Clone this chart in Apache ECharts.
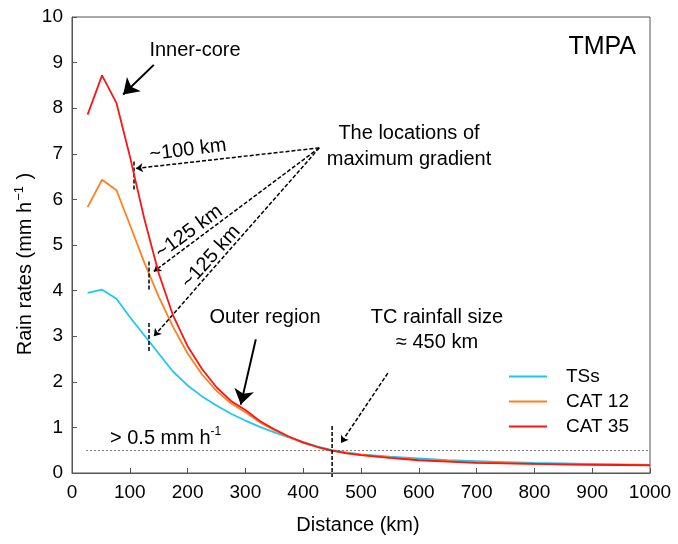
<!DOCTYPE html>
<html><head><meta charset="utf-8">
<script src="https://cdn.jsdelivr.net/npm/echarts@6/dist/echarts.min.js"></script>
<style>html,body{margin:0;padding:0;background:#fff}#c{width:678px;height:544px}</style>
</head><body><div id="c"></div>
<script>
const distances = [27, 52, 77, 100, 125, 150, 175, 200, 225, 250, 275, 300, 325, 350, 375, 400, 425, 450, 475, 500, 550, 600, 650, 700, 750, 800, 850, 900, 950, 1000];
const tss   = [3.95, 4.02, 3.82, 3.42, 3.02, 2.62, 2.22, 1.92, 1.68, 1.48, 1.30, 1.15, 1.01, 0.89, 0.78, 0.68, 0.58, 0.50, 0.45, 0.41, 0.36, 0.32, 0.28, 0.26, 0.24, 0.22, 0.21, 0.20, 0.19, 0.18];
const cat12 = [5.83, 6.43, 6.20, 5.45, 4.62, 3.87, 3.20, 2.62, 2.16, 1.80, 1.53, 1.33, 1.11, 0.94, 0.79, 0.66, 0.57, 0.49, 0.44, 0.40, 0.34, 0.29, 0.26, 0.23, 0.215, 0.20, 0.19, 0.185, 0.18, 0.175];
const cat35 = [7.86, 8.72, 8.11, 6.95, 5.58, 4.38, 3.45, 2.78, 2.28, 1.88, 1.58, 1.38, 1.14, 0.96, 0.80, 0.67, 0.57, 0.49, 0.43, 0.39, 0.33, 0.28, 0.25, 0.22, 0.21, 0.20, 0.19, 0.18, 0.175, 0.17];
const seriesNames = ['TSs', 'CAT 12', 'CAT 35'];
const seriesColors = ['#1ec8f0', '#ff8022', '#ff1414'];
const threshold = 0.5;
const rainfallSize = 450;

const FONT = 'Liberation Sans, Arial, sans-serif';
const pair = (arr) => distances.map((d, i) => [d, arr[i]]);

const dashed = {type: [4, 2], color: '#000', width: 1.5};
function seg(a, b, style, arrow, size) {
  return [
    {coord: a, symbol: 'none', lineStyle: style},
    {coord: b, symbol: arrow ? 'arrow' : 'none', symbolSize: size || 8, lineStyle: style}
  ];
}
const solid = {type: 'solid', color: '#000', width: 2};
const markData = [
  seg([24.7, threshold], [1000, threshold], {type: [1.5, 2.5], color: '#555', width: 1}, false),
  seg([106.9, 6.83], [106.9, 6.19], dashed, false),
  seg([132.9, 4.64], [132.9, 4.02], dashed, false),
  seg([132.9, 3.29], [132.9, 2.63], dashed, false),
  seg([427.8, 7.13], [110.5, 6.68], dashed, true, 7),
  seg([427.8, 7.13], [141.6, 4.42], dashed, true, 7),
  seg([427.8, 7.13], [141.6, 3.0], dashed, true, 7),
  seg([546.4, 2.19], [465.4, 0.66], dashed, true, 7),
  seg([141.5, 8.95], [88.5, 8.30], solid, true, 15),
  seg([318, 2.93], [292, 1.50], solid, true, 15)
];

const chart = echarts.init(document.getElementById('c'), null, {renderer: 'canvas'});
const lineSeries = seriesNames.map((n, k) => ({
  name: n, type: 'line', data: pair([tss, cat12, cat35][k]),
  showSymbol: false, symbol: 'none', color: seriesColors[k],
  lineStyle: {width: 1.8, color: seriesColors[k]}, z: 3 + k, animation: false
}));
lineSeries.push({
  name: 'annot', type: 'line', data: [], clip: false, animation: false, z: 10,
  markLine: {silent: true, animation: false, label: {show: false}, symbol: ['none', 'arrow'],
    emphasis: {disabled: true}, data: markData}
});

const t = (x, y, text, opts) => Object.assign({
  type: 'text', x: x, y: y, silent: true,
  style: Object.assign({text: text, font: '20px ' + FONT, fill: '#000', textAlign: 'center', textVerticalAlign: 'middle'}, (opts && opts.style) || {})
}, opts && opts.rotation !== undefined ? {rotation: opts.rotation} : {});

const deg = Math.PI / 180;
const graphics = [
  t(358, 525, 'Distance (km)'),
  {type: 'text', x: 25, y: 264, rotation: Math.PI / 2, silent: true,
   style: {text: '{a|Rain rates (mm h}{s|−1}{a| )}', textAlign: 'center', textVerticalAlign: 'middle',
     rich: {a: {font: '20px ' + FONT, fill: '#000', lineHeight: 24}, s: {font: '13px ' + FONT, fill: '#000', verticalAlign: 'top', lineHeight: 24, padding: [0, 1, 0, 1]}}}},
  t(636, 47, 'TMPA', {style: {font: '25px ' + FONT, textAlign: 'right'}}),
  t(195, 50, 'Inner-core'),
  t(188, 150, '~100 km', {rotation: 7 * deg}),
  t(189, 232, '~125 km', {rotation: 36 * deg}),
  t(211, 257, '~125 km', {rotation: 48 * deg}),
  t(409, 133, 'The locations of'),
  t(409, 159, 'maximum gradient'),
  t(265, 317, 'Outer region'),
  t(437, 317, 'TC rainfall size'),
  t(437, 342, '≈ 450 km'),
  {type: 'text', x: 110, y: 438, silent: true,
   style: {text: '{a|> 0.5 mm h}{s|-1}', textAlign: 'left', textVerticalAlign: 'middle',
     rich: {a: {font: '20px ' + FONT, fill: '#000', lineHeight: 24}, s: {font: '12px ' + FONT, fill: '#000', verticalAlign: 'top', lineHeight: 24}}}}
];

const option = {
  animation: false,
  textStyle: {fontFamily: FONT},
  grid: {left: 72, right: 28, top: 17, bottom: 71, show: true, borderColor: '#555', borderWidth: 1},
  legend: {
    data: seriesNames, orient: 'vertical', left: 509, top: 367, padding: 0, itemGap: 6,
    icon: 'rect', itemWidth: 38, itemHeight: 2,
    textStyle: {fontSize: 19, color: '#000', lineHeight: 19, padding: [0, 0, 0, 14], fontFamily: FONT},
    selectedMode: false
  },
  xAxis: {
    type: 'value', min: 0, max: 1000, interval: 100,
    axisLine: {lineStyle: {color: '#555', width: 1}},
    axisTick: {inside: true, length: 5, lineStyle: {color: '#555'}},
    axisLabel: {fontSize: 19, color: '#000', margin: 10, fontFamily: FONT, formatter: (v) => String(v)},
    splitLine: {show: false}
  },
  yAxis: {
    type: 'value', min: 0, max: 10, interval: 1,
    axisLine: {show: true, lineStyle: {color: '#555', width: 1}},
    axisTick: {show: true, inside: true, length: 5, lineStyle: {color: '#555'}},
    axisLabel: {fontSize: 19, color: '#000', margin: 9, fontFamily: FONT, formatter: (v) => String(v)},
    splitLine: {show: false}
  },
  series: lineSeries,
  graphic: graphics
};
chart.setOption(option);

// vertical dashed marker at the rainfall size, extending slightly below the axis
const pTop = chart.convertToPixel({gridIndex: 0}, [rainfallSize, 1.03]);
const pBot = chart.convertToPixel({gridIndex: 0}, [rainfallSize, 0]);
graphics.push({type: 'line', silent: true, z: 20,
  shape: {x1: pTop[0], y1: pTop[1], x2: pBot[0], y2: pBot[1] + 4},
  style: {stroke: '#000', lineWidth: 1.5, lineDash: [4, 2]}});
chart.setOption({graphic: graphics});
</script></body></html>
